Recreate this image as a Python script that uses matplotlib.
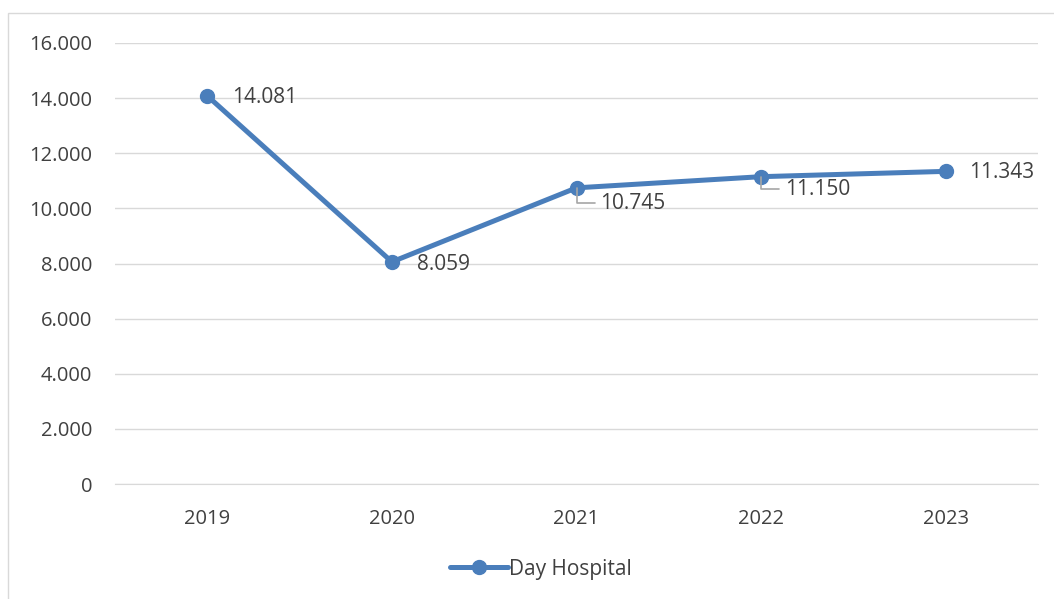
import matplotlib.pyplot as plt
from matplotlib.patches import Rectangle
from matplotlib.ticker import FuncFormatter

plt.rcParams['font.family'] = ['Open Sans', 'DejaVu Sans']

# dati
anni = ['2019', '2020', '2021', '2022', '2023']
valori = [14081, 8059, 10745, 11150, 11343]
serie = 'Day Hospital'

# formato con il punto delle migliaia
fmt = lambda v: f'{v:,.0f}'.replace(',', '.')

blu = '#4A7EBB'
testo = '#404040'

fig = plt.figure(figsize=(10.54, 5.99), dpi=100)
ax = fig.add_axes([115 / 1054, 1 - 484 / 599, (1038 - 115) / 1054, (484 - 43) / 599])

x = range(len(anni))
ax.plot(x, valori, color=blu, lw=3.6, marker='o', ms=10, label=serie, solid_capstyle='round')

ax.set_xlim(-0.5, len(anni) - 0.5)
ax.set_ylim(0, 16000)
ax.set_yticks(range(0, 16001, 2000))
ax.yaxis.set_major_formatter(FuncFormatter(lambda v, p: fmt(v)))
ax.set_xticks(list(x))
ax.set_xticklabels(anni)
ax.tick_params(length=0, labelsize=14.5, labelcolor=testo)
ax.tick_params(axis='y', pad=16.5)
ax.tick_params(axis='x', pad=18)
ax.grid(axis='y', color='#D9D9D9', lw=1)
ax.set_axisbelow(True)
for s in ['top', 'right', 'left']:
    ax.spines[s].set_visible(False)
ax.spines['bottom'].set_color('#D9D9D9')

# etichette dei valori: offset in punti
offsets = [(18, -1), (18, -2), (17, -11), (17, -9), (17, -1)]
leader = [False, False, True, True, False]
for i, v in enumerate(valori):
    dx, dy = offsets[i]
    if leader[i]:
        ax.annotate(fmt(v), (i, v), xytext=(dx, dy), textcoords='offset points',
                    ha='left', va='center', fontsize=15, color=testo,
                    arrowprops=dict(arrowstyle='-', color='#A6A6A6', lw=1.2,
                                    shrinkA=2, shrinkB=0,
                                    connectionstyle='angle,angleA=0,angleB=90,rad=0'))
    else:
        ax.annotate(fmt(v), (i, v), xytext=(dx, dy), textcoords='offset points',
                    ha='left', va='center', fontsize=15, color=testo)

leg = fig.legend(loc='center', bbox_to_anchor=(541 / 1054, 1 - 569 / 599), frameon=False,
                 fontsize=15, handlelength=2.8, handletextpad=0.05)
for t in leg.get_texts():
    t.set_color(testo)

# cornice del grafico
fig.patches.append(Rectangle((8 / 1054, -0.1), 1.2, 1.1 - 13 / 599, transform=fig.transFigure,
                             fill=False, edgecolor='#D9D9D9', lw=1))

fig.savefig('out.png', dpi=100)
